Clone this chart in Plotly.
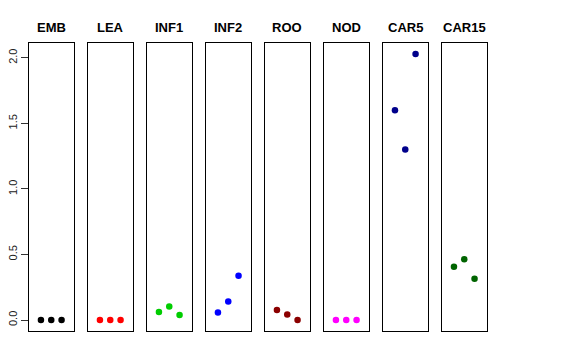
import plotly.graph_objects as go

groups = ["EMB", "LEA", "INF1", "INF2", "ROO", "NOD", "CAR5", "CAR15"]
colors = ["#000000", "#FF0000", "#00CD00", "#0000FF", "#8B0000", "#FF00FF", "#00008B", "#006400"]
values = [
    [0.0, 0.0, 0.0],
    [0.0, 0.0, 0.0],
    [0.061, 0.104, 0.038],
    [0.058, 0.142, 0.338],
    [0.076, 0.043, 0.0],
    [0.0, 0.0, 0.0],
    [1.60, 1.30, 2.03],
    [0.406, 0.463, 0.315],
]
replicates = [1, 2, 3]
y_ticks = [0.0, 0.5, 1.0, 1.5, 2.0]
y_tick_labels = ["0.0", "0.5", "1.0", "1.5", "2.0"]

W, H = 576, 360
panel_left0 = 29.0
panel_step = 59.0
panel_w = 44.5
y_bottom_px, y_top_px = 330.7, 43.3

fig = go.Figure()
layout = dict(
    width=W, height=H,
    margin=dict(l=0, r=0, t=0, b=0),
    paper_bgcolor="white", plot_bgcolor="white",
    showlegend=False,
    font=dict(family="Liberation Sans, Arial, sans-serif", color="black"),
)
annotations = []
for i, (g, c, v) in enumerate(zip(groups, colors, values)):
    n = "" if i == 0 else str(i + 1)
    fig.add_trace(go.Scatter(
        x=replicates, y=v, mode="markers",
        marker=dict(color=c, size=6.5, line=dict(width=0)),
        xaxis="x" + n, yaxis="y" + n,
    ))
    x0 = (panel_left0 + i * panel_step) / W
    x1 = (panel_left0 + i * panel_step + panel_w) / W
    layout["xaxis" + n] = dict(
        domain=[x0, x1], range=[-0.16, 4.16], anchor="y" + n,
        showgrid=False, zeroline=False, showticklabels=False, ticks="",
        showline=True, mirror=True, linecolor="black", linewidth=1,
        fixedrange=True,
    )
    ydict = dict(
        domain=[1 - y_bottom_px / H, 1 - y_top_px / H], range=[-0.0815, 2.111],
        anchor="x" + n, showgrid=False, zeroline=False,
        showline=True, mirror=True, linecolor="black", linewidth=1,
        fixedrange=True,
    )
    if i == 0:
        ydict.update(
            tickvals=y_ticks, ticktext=y_tick_labels, ticks="outside",
            ticklen=7, tickcolor="#333333", tickangle=-90,
            tickfont=dict(size=11, color="#222222"),
        )
    else:
        ydict.update(showticklabels=False, ticks="")
    layout["yaxis" + n] = ydict
    annotations.append(dict(
        x=(x0 + x1) / 2, y=1 - 28 / H, xref="paper", yref="paper",
        text="<b>" + g + "</b>", showarrow=False,
        xanchor="center", yanchor="middle",
        font=dict(size=13, color="black", family="Liberation Sans, Arial, sans-serif"),
    ))
layout["annotations"] = annotations
fig.update_layout(**layout)
fig.write_html("out.html", config={"displayModeBar": False},
               post_script="document.body.style.margin='0';")
